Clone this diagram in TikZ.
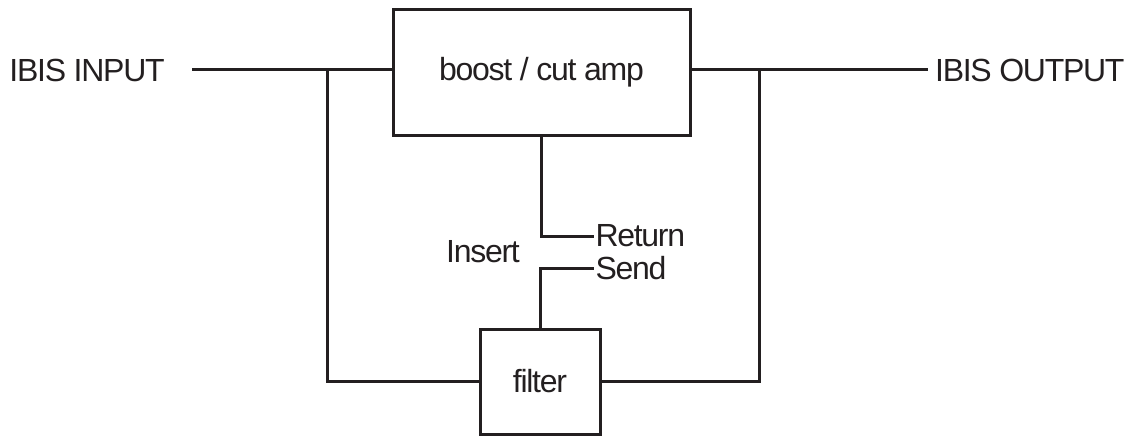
\documentclass[tikz,border=0pt]{standalone}
\usepackage{fontspec}
\setmainfont{Liberation Sans}[LetterSpace=-4]
\definecolor{ink}{HTML}{231F20}

\begin{document}
\begin{tikzpicture}[x=0.5pt,y=-0.5pt,line width=1.5pt,color=ink,
    block/.style={draw,minimum width=#1,inner sep=0pt},
    lbl/.style={inner sep=0pt,font=\fontsize{16}{19}\selectfont}]
            \useasboundingbox (0,0) rectangle (1136,435);

            \node[block=148.5pt,minimum height=63pt,lbl] (amp) at (541.5,72) {boost / cut amp};
            \node[block=60pt,minimum height=52.5pt,lbl] (filter) at (540,381.5) {filter};

            \node[lbl,anchor=west] (inlbl) at (8,70) {IBIS INPUT};
            \node[lbl,anchor=east] (outlbl) at (1126,70) {IBIS OUTPUT};
            \node[lbl,anchor=west] (ret) at (594,236) {Return};
            \node[lbl,anchor=west] (send) at (594,268) {Send};
            \node[lbl] (ins) at (483,252) {Insert};

            \coordinate (inbeg) at (192,69);
            \coordinate (outend) at (928,69);
            \coordinate (lj) at (327,69);
            \coordinate (rj) at (759,69);

            \draw (inbeg) -- (amp.west |- inbeg);
            \draw (amp.east |- outend) -- (outend);
            \draw (lj) |- (filter.west);
            \draw (rj) |- (filter.east);

            \draw (amp.south) |- (ret.west);
            \draw (filter.north) |- (send.west);
        \end{tikzpicture}
\end{document}
